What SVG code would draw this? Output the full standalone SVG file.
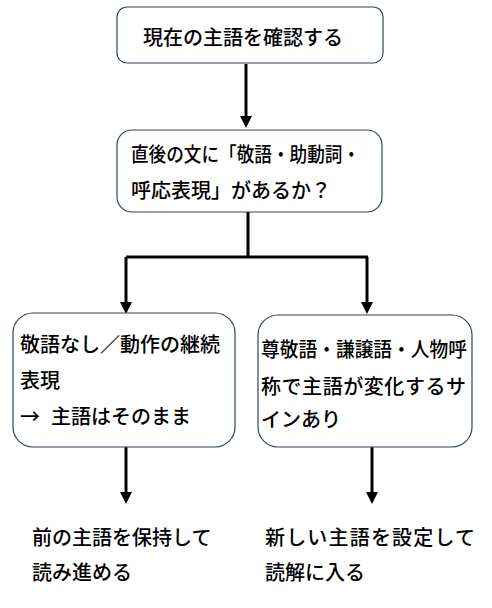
<svg xmlns="http://www.w3.org/2000/svg" width="492" height="608" viewBox="0 0 492 608">
<style>
.box{fill:#fff;stroke:#2e4756;stroke-width:1.2}
.t{font-family:"Noto Sans CJK JP","Noto Sans",sans-serif;font-size:20px;font-weight:500;fill:#000}
.c{fill:none;stroke:#000;stroke-width:3}
</style>
<defs>
<marker id="ah" markerWidth="4" markerHeight="4" refX="2" refY="2" orient="auto" markerUnits="strokeWidth" viewBox="0 0 4 4">
<path d="M0,0 L4,2 L0,4 z" fill="#000"/>
</marker>
</defs>
<rect width="492" height="608" fill="#fff"/>
<g id="connectors">
<path class="c" d="M246,64 V122" marker-end="url(#ah)"/>
<path class="c" d="M248,212 V257 M126,257 H368"/>
<path class="c" d="M126,257 V308" marker-end="url(#ah)"/>
<path class="c" d="M367,257 V308" marker-end="url(#ah)"/>
<path class="c" d="M126,447 V498" marker-end="url(#ah)"/>
<path class="c" d="M372,447 V498" marker-end="url(#ah)"/>
</g>
<g id="n1">
<rect class="box" x="117" y="7" width="266" height="56" rx="10"/>
<text class="t" x="143" y="45">現在の主語を確認する</text>
</g>
<g id="n2">
<rect class="box" x="117" y="130" width="265" height="82" rx="15"/>
<text class="t" x="131" y="162" textLength="229" lengthAdjust="spacingAndGlyphs">直後の文に「敬語・助動詞・</text>
<text class="t" x="131" y="198">呼応表現」があるか？</text>
</g>
<g id="n3">
<rect class="box" x="13" y="313" width="222" height="134" rx="20"/>
<text class="t" x="20" y="352">敬語なし／動作の継続</text>
<text class="t" x="20" y="388">表現</text>
<text class="t" x="20" y="424">→<tspan x="51">主語はそのまま</tspan></text>
</g>
<g id="n4">
<rect class="box" x="258" y="315" width="214" height="132" rx="20"/>
<text class="t" x="261" y="357" textLength="206" lengthAdjust="spacingAndGlyphs">尊敬語・謙譲語・人物呼</text>
<text class="t" x="261" y="394" textLength="205" lengthAdjust="spacing">称で主語が変化するサ</text>
<text class="t" x="261" y="427">インあり</text>
</g>
<g id="n5">
<text class="t" x="32" y="545">前の主語を保持して</text>
<text class="t" x="32" y="580">読み進める</text>
</g>
<g id="n6">
<text class="t" x="265" y="545" textLength="210" lengthAdjust="spacing">新しい主語を設定して</text>
<text class="t" x="265" y="580">読解に入る</text>
</g>
</svg>
